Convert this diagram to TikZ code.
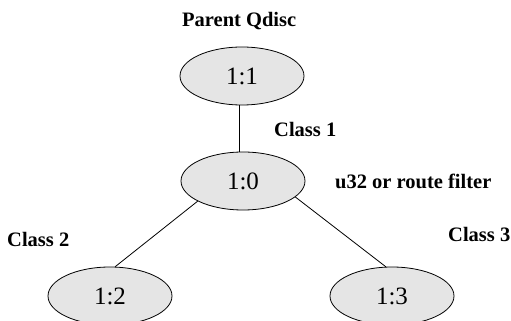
\documentclass[tikz,border=0pt]{standalone}
\usepackage{fontspec}
\setmainfont{Liberation Serif}
\usetikzlibrary{shapes.geometric}

\begin{document}
\begin{tikzpicture}[x=1pt,y=1pt,
  classnode/.style={ellipse, draw, fill=gray!20, line width=0.8pt,
    minimum width=124pt, minimum height=58pt, inner sep=0pt,
    font=\fontsize{25}{29}\selectfont},
  tag/.style={font=\fontsize{20.5}{24}\selectfont\bfseries,
    anchor=base west, inner sep=0pt}]
  \useasboundingbox (0,0) rectangle (511,321);
  \clip (0,0) rectangle (511,321);

  % Draw the qdisc and its classes
  \node[classnode] (root) at (242,245) {1:1};
  \node[classnode] (cls10) at (243,140) {1:0};
  \node[classnode] (cls12) at (110,25) {1:2};
  \node[classnode] (cls13) at (392,25) {1:3};

  % Draw the tree edges
  \draw[line width=0.8pt] (root.265) -- (root.265 |- cls10.north);
  \draw[line width=0.8pt] (cls10.204) -- (cls12.80);
  \draw[line width=0.8pt] (cls10.343) -- (cls13.102);

  % Labels
  \node[tag] (parentlbl) at (182,294.3) {Parent Qdisc};
  \node[tag] (class1lbl) at (274,184.3) {Class 1};
  \node[tag] (filterlbl) at (335,132.7) {u32 or route filter};
  \node[tag] (class2lbl) at (7,74.3) {Class 2};
  \node[tag] (class3lbl) at (448,79.3) {Class 3};
\end{tikzpicture}
\end{document}
